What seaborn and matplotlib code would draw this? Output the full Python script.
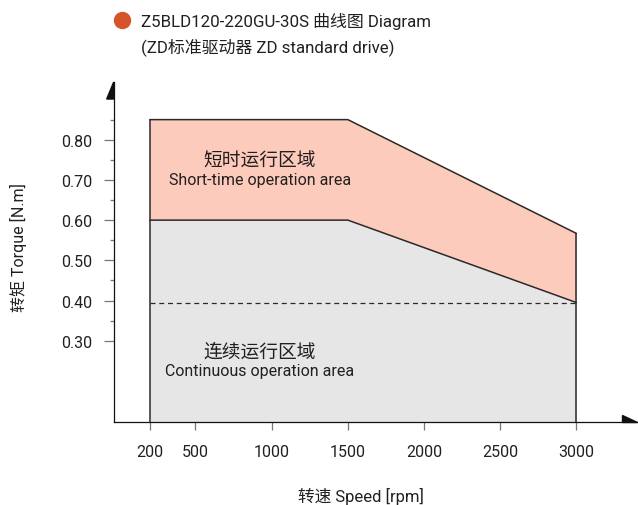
import matplotlib
matplotlib.use("Agg")
import matplotlib.pyplot as plt
import seaborn as sns
import pandas as pd

# torque / speed curve data
speed = [200, 1500, 3000]
cont_torque = [0.60, 0.60, 0.395]
peak_torque = [0.85, 0.85, 0.567]
rated_torque = 0.395

x_ticks = [200, 500, 1000, 1500, 2000, 2500, 3000]
y_ticks = [0.30, 0.40, 0.50, 0.60, 0.70, 0.80]
y_minor = [0.35, 0.45, 0.55, 0.65, 0.75, 0.85]

title1 = "Z5BLD120-220GU-30S 曲线图 Diagram"
title2 = "(ZD标准驱动器 ZD standard drive)"
peak_label = ("短时运行区域", "Short-time operation area")
cont_label = ("连续运行区域", "Continuous operation area")
x_label = "转速 Speed [rpm]"
y_label = "转矩 Torque [N.m]"

sns.set_theme(style="white")
fonts = ["Roboto", "Noto Sans CJK SC", "DejaVu Sans"]
plt.rcParams["font.family"] = fonts
txt = "#231f20"
line_c = "#2b2829"

df = pd.DataFrame({"speed": speed, "cont": cont_torque, "peak": peak_torque})

fig = plt.figure(figsize=(6.38, 5.06), dpi=100)
ax = fig.add_axes([0.1782, 0.1650, 0.8202, 0.6709])
x0, x1 = -37, 3398
y0, y1 = 0.099, 0.9435
ax.set_xlim(x0, x1)
ax.set_ylim(y0, y1)

# areas
ax.fill_between(df["speed"], y0, df["cont"], color="#e6e6e6", lw=0, zorder=1)
ax.fill_between(df["speed"], df["cont"], df["peak"], color="#fccbbc", lw=0, zorder=1)

# outlines
sns.lineplot(data=df, x="speed", y="peak", color=line_c, lw=1.1, ax=ax, zorder=3)
sns.lineplot(data=df, x="speed", y="cont", color=line_c, lw=1.1, ax=ax, zorder=3)
ax.vlines([speed[0], speed[-1]], y0, [peak_torque[0], peak_torque[-1]],
          color=line_c, lw=1.1, zorder=3)
ax.hlines(rated_torque, speed[0], speed[-1], color=line_c, lw=0.9,
          linestyles=(0, (4, 3)), zorder=2)

# area texts
ax.text(923, 0.748, peak_label[0], ha="center", va="center", fontsize=13.5, color=txt)
ax.text(923, 0.702, peak_label[1], ha="center", va="center", fontsize=11.5, color=txt)
ax.text(923, 0.272, cont_label[0], ha="center", va="center", fontsize=13.5, color=txt)
ax.text(923, 0.225, cont_label[1], ha="center", va="center", fontsize=11.5, color=txt)

# axes styling
for s in ["top", "right"]:
    ax.spines[s].set_visible(False)
for s in ["left", "bottom"]:
    ax.spines[s].set_color("#111111")
    ax.spines[s].set_linewidth(0.9)
ax.set_xticks(x_ticks)
ax.set_xticklabels([str(v) for v in x_ticks])
ax.set_yticks(y_ticks)
ax.set_yticklabels(["%.2f" % v for v in y_ticks])
ax.set_yticks(y_minor, minor=True)
ax.tick_params(axis="x", which="major", direction="out", length=5.5, width=0.9,
               color="#777777", labelsize=11.5, labelcolor=txt, pad=11, bottom=True)
ax.tick_params(axis="y", which="major", direction="out", length=7.2, width=0.9,
               color="#777777", labelsize=11.5, labelcolor=txt, pad=8, left=True)
ax.tick_params(axis="y", which="minor", direction="out", length=3, width=0.9,
               color="#777777", left=True)

ax.set_xlabel(x_label, fontsize=12, color=txt, va="center")
ax.xaxis.set_label_coords((361 - 113.7) / 523.3, (422.5 - 496) / 339.5)
ax.set_ylabel(y_label, fontsize=11.5, color=txt, va="center")
ax.yaxis.set_label_coords((18 - 113.7) / 523.3, (422.5 - 248) / 339.5)

# axis arrow heads
w_ax, h_ax = 523.3, 339.5
ax.fill([0, -7 / w_ax, 0], [1, 1 - 17 / h_ax, 1 - 17 / h_ax],
        transform=ax.transAxes, color="#111111", clip_on=False, zorder=5)
ax.fill([1, 1 - 15 / w_ax, 1 - 15 / w_ax], [0, 0, 7 / h_ax],
        transform=ax.transAxes, color="#111111", clip_on=False, zorder=5)

# header
fig.lines.append(plt.Line2D([121.7 / 638], [1 - 20.7 / 506], marker="o", markersize=11.5,
                            color="#d6542b", transform=fig.transFigure))
fig.text(141 / 638, 1 - 21.5 / 506, title1, ha="left", va="center", fontsize=12.2, color=txt)
fig.text(141 / 638, 1 - 47.5 / 506, title2, ha="left", va="center", fontsize=12.2, color=txt)

fig.savefig("out.png", dpi=100)
